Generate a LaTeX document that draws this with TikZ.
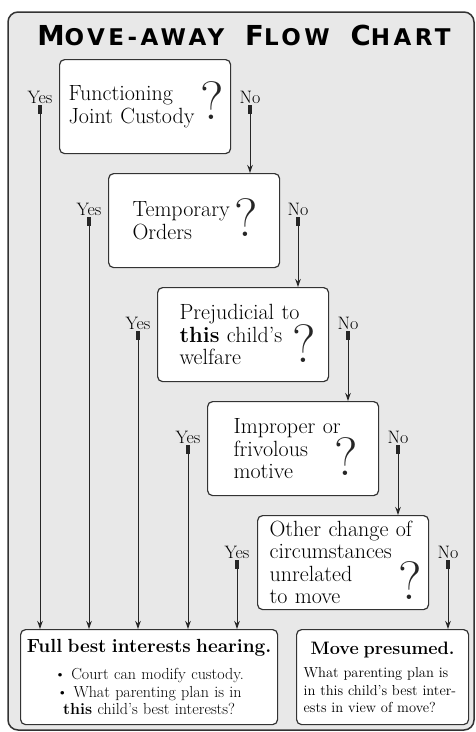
\documentclass[tikz,border=0pt]{standalone}
\usepackage{fontspec}
\newfontfamily\titlefont[LetterSpace=15]{DejaVu Sans}
\usetikzlibrary{arrows.meta,positioning}

\newcommand{\tcap}[1]{{\fontsize{27.5}{28}\selectfont #1}}
\newcommand{\tsc}[1]{{\fontsize{23}{24}\selectfont #1}}

\tikzset{
  qbox/.style={draw=black!80, fill=white, line width=1.2pt, rounded corners=5pt,
    anchor=north west, minimum width=171pt, minimum height=94pt, align=left,
    inner ysep=2pt, inner xsep=#1, font=\fontsize{22}{22.5}\selectfont},
  endbox/.style={draw=black!80, fill=white, line width=1.2pt, rounded corners=5pt,
    anchor=north west, minimum height=95pt, inner ysep=2pt},
  lab/.style={font=\fontsize{18}{18}\selectfont, inner sep=2pt},
  qmark/.style={font=\fontsize{54}{54}\selectfont, inner sep=0pt, text=black!85},
  flow/.style={draw=black!85, line width=1pt,
    {Rectangle[length=9pt,width=4pt]}-{Stealth[length=8pt,width=5.5pt]}}
}

\begin{document}
\begin{tikzpicture}[x=1pt,y=-1pt]
    \useasboundingbox (0,0) rectangle (475,732);

    % Frame
    \draw[black!80, line width=1.5pt, fill=black!9, rounded corners=10pt] (8,12) rectangle (474,730);

    % Title
    \node[font=\titlefont\bfseries] (title) at (244,35)
        {\tcap{M}\tsc{OVE-AWAY}\hspace{21pt}\tcap{F}\tsc{LOW}\hspace{21pt}\tcap{C}\tsc{HART}};

    % Questions
    \node[qbox=9pt, text width=153pt] (q1) at (59,59) {Functioning\\Joint Custody};
    \node[qbox=24pt, text width=123pt] (q2) at (108,173) {Temporary\\Orders};
    \node[qbox=22pt, text width=127pt] (q3) at (157,287) {Prejudicial to\\\textbf{this} child's\\welfare};
    \node[qbox=26pt, text width=119pt] (q4) at (207,401) {Improper or\\frivolous\\motive};
    \node[qbox=12pt, text width=147pt] (q5) at (257,515) {Other change of\\circumstances\\unrelated\\to move};

    % Question marks
    \node[qmark] (m1) at (212,101) {?};
    \node[qmark] (m2) at (246,218) {?};
    \node[qmark] (m3) at (304,344) {?};
    \node[qmark] (m4) at (346,457) {?};
    \node[qmark] (m5) at (410,581) {?};

    % Outcomes
    \node[endbox, minimum width=257pt, text width=247pt, inner xsep=5pt, align=center,
        font=\fontsize{16}{17.5}\selectfont] (full) at (20,629)
        {{\fontsize{19}{20}\selectfont\bfseries Full best interests hearing.}\\[10pt]
         \textbullet~Court can modify custody.\\
         \textbullet~What parenting plan is in\\
         \textbf{this} child's best interests?};
    \node[endbox, minimum width=172pt, text width=158pt, inner xsep=7pt, align=left,
        font=\fontsize{14.5}{17.5}\selectfont] (move) at (296,629)
        {\makebox[158pt]{\fontsize{18}{20}\selectfont\bfseries Move presumed.}\\[6pt]
         What parenting plan is\\
         in this child's best inter-\\
         ests in view of move?};

    % Yes / No labels
    \node[lab] (yes1) at (40,97) {Yes};
    \node[lab] (yes2) at (89,209) {Yes};
    \node[lab] (yes3) at (138,323) {Yes};
    \node[lab] (yes4) at (188,437) {Yes};
    \node[lab] (yes5) at (237,552) {Yes};
    \node[lab] (no1) at (250,97) {No};
    \node[lab] (no2) at (298,209) {No};
    \node[lab] (no3) at (348,323) {No};
    \node[lab] (no4) at (398,437) {No};
    \node[lab] (no5) at (448,552) {No};

    % Connectors
    \foreach \i in {1,...,5} {
        \draw[flow] (yes\i.south) -- (yes\i.south |- full.north);
    }
    \foreach \i/\j in {1/2,2/3,3/4,4/5} {
        \draw[flow] (no\i.south) -- (no\i.south |- q\j.north);
    }
    \draw[flow] (no5.south) -- (no5.south |- move.north);
\end{tikzpicture}
\end{document}
